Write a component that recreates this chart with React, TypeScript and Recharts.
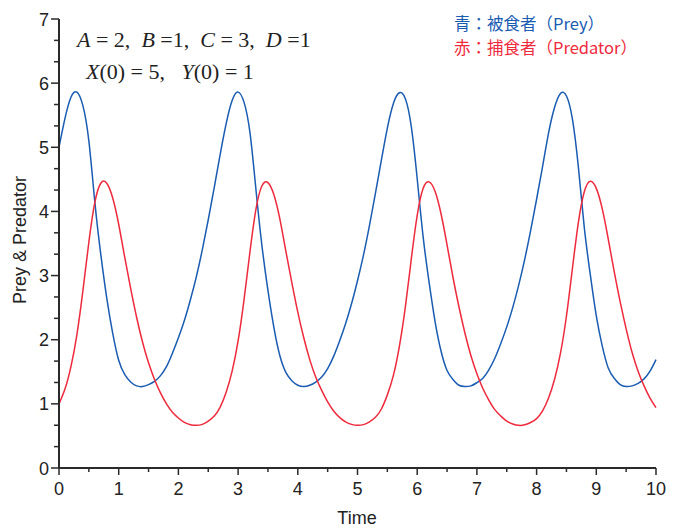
import { Line, LineChart, XAxis, YAxis } from "recharts";

const time = [
  0, 0.1, 0.2, 0.3, 0.4, 0.5, 0.6, 0.7, 0.8, 0.9,
  1, 1.1, 1.2, 1.3, 1.4, 1.5, 1.6, 1.7, 1.8, 1.9,
  2, 2.1, 2.2, 2.3, 2.4, 2.5, 2.6, 2.7, 2.8, 2.9,
  3, 3.1, 3.2, 3.3, 3.4, 3.5, 3.6, 3.7, 3.8, 3.9,
  4, 4.1, 4.2, 4.3, 4.4, 4.5, 4.6, 4.7, 4.8, 4.9,
  5, 5.1, 5.2, 5.3, 5.4, 5.5, 5.6, 5.7, 5.8, 5.9,
  6, 6.1, 6.2, 6.3, 6.4, 6.5, 6.6, 6.7, 6.8, 6.9,
  7, 7.1, 7.2, 7.3, 7.4, 7.5, 7.6, 7.7, 7.8, 7.9,
  8, 8.1, 8.2, 8.3, 8.4, 8.5, 8.6, 8.7, 8.8, 8.9,
  9, 9.1, 9.2, 9.3, 9.4, 9.5, 9.6, 9.7, 9.8, 9.9,
  10,
];

// 青：被食者 (prey)
const prey = [
  5.0, 5.45, 5.78, 5.86, 5.65, 5.1, 4.15, 3.33, 2.65, 2.1,
  1.68, 1.46, 1.34, 1.28, 1.27, 1.3, 1.35, 1.44, 1.58, 1.79,
  2.03, 2.3, 2.62, 2.98, 3.4, 3.87, 4.37, 4.89, 5.37, 5.73,
  5.86, 5.7, 5.22, 4.33, 3.46, 2.77, 2.19, 1.75, 1.49, 1.36,
  1.29, 1.27, 1.29, 1.34, 1.42, 1.55, 1.74, 1.98, 2.25, 2.56,
  2.92, 3.32, 3.78, 4.28, 4.8, 5.3, 5.68, 5.85, 5.76, 5.33,
  4.51, 3.6, 2.89, 2.28, 1.82, 1.52, 1.38, 1.29, 1.27, 1.28,
  1.33, 1.4, 1.53, 1.71, 1.94, 2.2, 2.5, 2.85, 3.25, 3.7,
  4.19, 4.7, 5.22, 5.62, 5.84, 5.8, 5.44, 4.69, 3.74, 3.01,
  2.37, 1.9, 1.56, 1.4, 1.3, 1.27, 1.28, 1.32, 1.39, 1.51,
  1.69,
];

// 赤：捕食者 (predator)
const predator = [
  1.0, 1.23, 1.58, 2.08, 2.76, 3.52, 4.14, 4.44, 4.44, 4.21,
  3.8, 3.29, 2.8, 2.35, 1.96, 1.64, 1.38, 1.17, 1.0, 0.87,
  0.78, 0.71, 0.675, 0.665, 0.68, 0.73, 0.81, 0.95, 1.18, 1.51,
  1.98, 2.63, 3.38, 4.04, 4.4, 4.45, 4.26, 3.88, 3.38, 2.89,
  2.43, 2.03, 1.69, 1.42, 1.21, 1.03, 0.89, 0.79, 0.72, 0.68,
  0.665, 0.676, 0.72, 0.79, 0.92, 1.14, 1.44, 1.89, 2.5, 3.25,
  3.94, 4.36, 4.46, 4.31, 3.96, 3.48, 2.97, 2.51, 2.1, 1.75,
  1.47, 1.24, 1.06, 0.91, 0.81, 0.73, 0.686, 0.665, 0.673, 0.71,
  0.77, 0.89, 1.09, 1.38, 1.79, 2.37, 3.11, 3.83, 4.31, 4.47,
  4.36, 4.04, 3.57, 3.06, 2.59, 2.17, 1.8, 1.51, 1.28, 1.09,
  0.94,
];

const xTicks = [0, 0.5, 1, 1.5, 2, 2.5, 3, 3.5, 4, 4.5, 5, 5.5, 6, 6.5, 7, 7.5, 8, 8.5, 9, 9.5, 10];
const yMajor = [0, 1, 2, 3, 4, 5, 6, 7];
const yTicks = yMajor.flatMap((v) => (v < 7 ? [v, v + 1 / 3, v + 2 / 3] : [v]));

const legendLines = ["青：被食者（Prey）", "赤：捕食者（Predator）"];

const data = time.map((t, i) => ({ t, prey: prey[i], predator: predator[i] }));

const BLUE = "#1a5cb2";
const RED = "#ee2a3c";
const AXIS = "#2a2a2a";
const SANS = "'Liberation Sans', Arial, sans-serif";
const SERIF = "'Liberation Serif', 'Times New Roman', serif";
const CJK = "'Noto Sans CJK JP', 'Noto Sans', sans-serif";

const isMajor = (v: number) => Math.abs(v - Math.round(v)) < 1e-6;

// eslint-disable-next-line @typescript-eslint/no-explicit-any
const XTick = ({ x, y, payload }: any) => {
  const major = isMajor(payload.value);
  return (
    <g>
      <line x1={x} y1={y} x2={x} y2={y + (major ? 7 : 4)} stroke={AXIS} strokeWidth={1.5} />
      {major && (
        <text x={x} y={y + 27} textAnchor="middle" fontSize={18} fontFamily={SANS} fill="#222">
          {Math.round(payload.value)}
        </text>
      )}
    </g>
  );
};

// eslint-disable-next-line @typescript-eslint/no-explicit-any
const YTick = ({ x, y, payload }: any) => {
  const major = isMajor(payload.value);
  return (
    <g>
      <line x1={x - (major ? 8 : 5)} y1={y} x2={x} y2={y} stroke={AXIS} strokeWidth={1.5} />
      {major && (
        <text x={x - 10} y={y + 6.5} textAnchor="end" fontSize={18} fontFamily={SANS} fill="#222">
          {Math.round(payload.value)}
        </text>
      )}
    </g>
  );
};

const legendStyle = {
  position: "absolute" as const,
  left: 454,
  fontFamily: CJK,
  fontSize: 16.5,
  lineHeight: "16px",
  whiteSpace: "nowrap" as const,
};

export default function App() {
  return (
    <div style={{ position: "absolute", left: 0, top: 0, width: 678, height: 529, background: "#fff" }}>
      <LineChart width={678} height={529} data={data} margin={{ top: 19, right: 22, bottom: 21, left: 0 }}>
        <XAxis
          dataKey="t"
          type="number"
          domain={[0, 10]}
          ticks={xTicks}
          interval={0}
          tickSize={0}
          tickMargin={0}
          tickLine={false}
          tick={<XTick />}
          axisLine={{ stroke: AXIS, strokeWidth: 2 }}
          height={40}
        />
        <YAxis
          type="number"
          domain={[0, 7]}
          ticks={yTicks}
          interval={0}
          tickSize={0}
          tickMargin={0}
          tickLine={false}
          tick={<YTick />}
          axisLine={{ stroke: AXIS, strokeWidth: 2 }}
          width={59}
        />
        <Line type="natural" dataKey="prey" stroke={BLUE} strokeWidth={1.5} dot={false} isAnimationActive={false} />
        <Line type="natural" dataKey="predator" stroke={RED} strokeWidth={1.5} dot={false} isAnimationActive={false} />
      </LineChart>

      <div
        style={{
          position: "absolute",
          left: 20,
          top: 240,
          transform: "translate(-50%, -50%) rotate(-90deg)",
          whiteSpace: "nowrap",
          fontFamily: SANS,
          fontSize: 18,
          color: "#222",
        }}
      >
        Prey &amp; Predator
      </div>
      <div
        style={{
          position: "absolute",
          left: 357,
          top: 508,
          transform: "translateX(-50%)",
          fontFamily: SANS,
          fontSize: 18,
          lineHeight: "20px",
          color: "#222",
        }}
      >
        Time
      </div>

      <div style={{ position: "absolute", left: 77, top: 29, fontFamily: SERIF, fontSize: 22, lineHeight: "22px", color: "#222", whiteSpace: "pre" }}>
        <i>A</i> = 2,  <i>B</i> =1,  <i>C</i> = 3,  <i>D</i> =1
      </div>
      <div style={{ position: "absolute", left: 86, top: 61, fontFamily: SERIF, fontSize: 22, lineHeight: "22px", color: "#222", whiteSpace: "pre" }}>
        <i>X</i>(0) = 5,   <i>Y</i>(0) = 1
      </div>

      <div style={{ ...legendStyle, top: 15, color: BLUE }}>{legendLines[0]}</div>
      <div style={{ ...legendStyle, top: 39, color: RED }}>{legendLines[1]}</div>
    </div>
  );
}
